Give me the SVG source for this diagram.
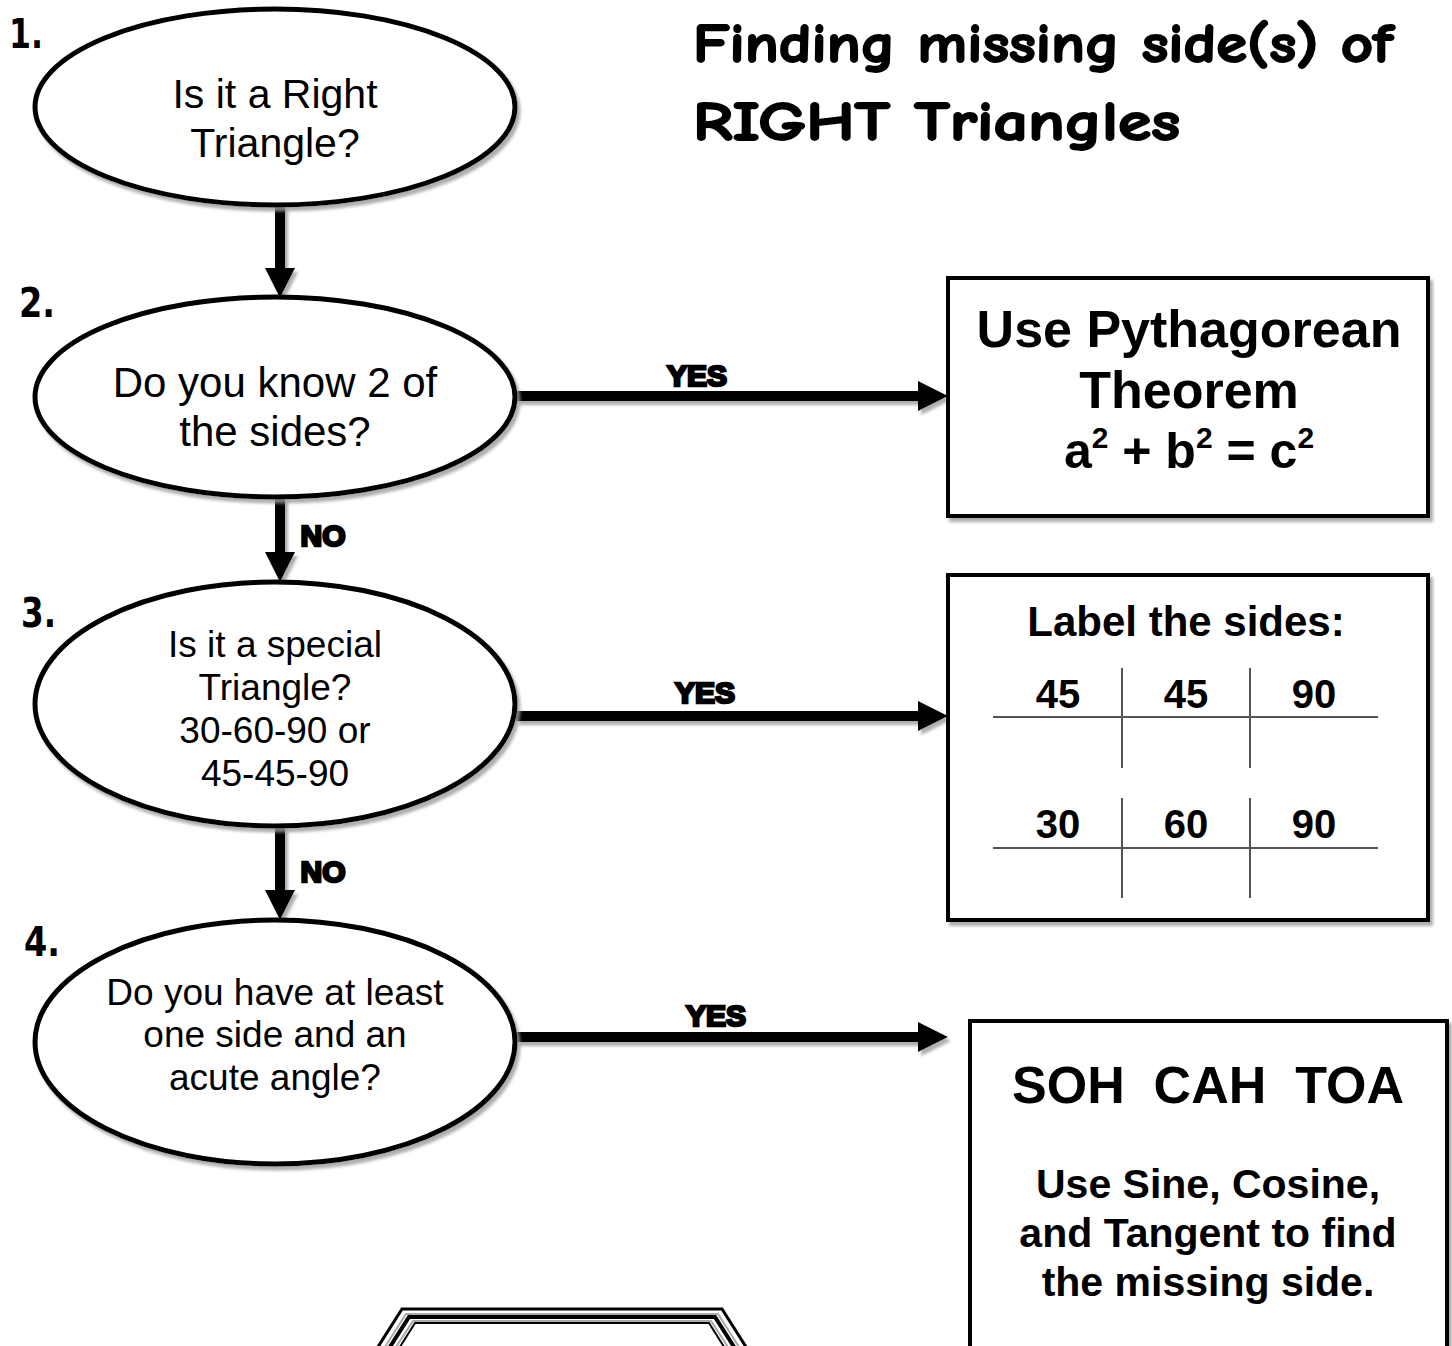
<svg xmlns="http://www.w3.org/2000/svg" width="1452" height="1346" viewBox="0 0 1452 1346">
<defs>
<filter id="sh" x="-10%" y="-10%" width="130%" height="130%">
<feDropShadow dx="3" dy="4" stdDeviation="1.5" flood-color="#9a9a9a" flood-opacity="0.8"/>
</filter>
<marker id="ah" markerUnits="userSpaceOnUse" markerWidth="32" markerHeight="32" refX="2" refY="15" orient="auto">
<path d="M0,0 L30,15 L0,30 z" fill="#000"/>
</marker>
</defs>
<style>
.ell{fill:#fff;stroke:#000;stroke-width:5}
.box{fill:#fff;stroke:#000;stroke-width:4}
.q{font-family:"Liberation Sans",Arial,sans-serif;text-anchor:middle;fill:#000}
.b{font-family:"Liberation Sans",Arial,sans-serif;font-weight:bold;text-anchor:middle;fill:#000}
.lbl{font-family:"Liberation Sans",Arial,sans-serif;font-weight:bold;font-size:30px;text-anchor:middle;fill:#000;stroke:#000;stroke-width:2.6}
.num{font-family:"DejaVu Sans",sans-serif;font-weight:bold;font-size:40px;fill:#000}
.ttl{font-family:"Comic Sans MS","Comic Neue","DejaVu Sans",sans-serif;font-weight:bold;font-size:54px;fill:#000;stroke:#000;stroke-width:1.8}
.conn line{stroke:#000;stroke-width:10;marker-end:url(#ah)}
.grid{stroke:#555;stroke-width:2}
</style>
<rect width="1452" height="1346" fill="#fff"/>

<g id="title">
<text class="ttl" x="693" y="62" textLength="700" lengthAdjust="spacingAndGlyphs">Finding missing side(s) of</text>
<text class="ttl" x="693" y="140" textLength="487" lengthAdjust="spacingAndGlyphs">RIGHT Triangles</text>
</g>

<g id="connectors" class="conn" filter="url(#sh)">
<line x1="280" y1="205" x2="280" y2="270"/>
<line x1="280" y1="497" x2="280" y2="554"/>
<line x1="280" y1="826" x2="280" y2="892"/>
<line x1="516" y1="396" x2="920" y2="396"/>
<line x1="516" y1="716" x2="920" y2="716"/>
<line x1="516" y1="1037" x2="920" y2="1037"/>
</g>

<g id="edge-labels">
<text class="lbl" x="697" y="386">YES</text>
<text class="lbl" x="705" y="703">YES</text>
<text class="lbl" x="716" y="1026">YES</text>
<text class="lbl" x="323" y="546">NO</text>
<text class="lbl" x="323" y="882">NO</text>
</g>

<g id="node1">
<ellipse class="ell" cx="275" cy="107" rx="240" ry="98" filter="url(#sh)"/>
<text class="num" x="9" y="48" textLength="34" lengthAdjust="spacingAndGlyphs">1.</text>
<text class="q" font-size="41" x="275" y="108">Is it a Right</text>
<text class="q" font-size="41" x="275" y="157">Triangle?</text>
</g>

<g id="node2">
<ellipse class="ell" cx="275" cy="397" rx="240" ry="100" filter="url(#sh)"/>
<text class="num" x="19" y="317" textLength="36" lengthAdjust="spacingAndGlyphs">2.</text>
<text class="q" font-size="42" x="275" y="397">Do you know 2 of</text>
<text class="q" font-size="42" x="275" y="446">the sides?</text>
</g>

<g id="node3">
<ellipse class="ell" cx="275" cy="704" rx="240" ry="122" filter="url(#sh)"/>
<text class="num" x="21" y="627" textLength="35" lengthAdjust="spacingAndGlyphs">3.</text>
<text class="q" font-size="37" x="275" y="657">Is it a special</text>
<text class="q" font-size="37" x="275" y="700">Triangle?</text>
<text class="q" font-size="37" x="275" y="743">30-60-90 or</text>
<text class="q" font-size="37" x="275" y="786">45-45-90</text>
</g>

<g id="node4">
<ellipse class="ell" cx="275" cy="1042" rx="240" ry="122" filter="url(#sh)"/>
<text class="num" x="24" y="956" textLength="36" lengthAdjust="spacingAndGlyphs">4.</text>
<text class="q" font-size="37" x="275" y="1005">Do you have at least</text>
<text class="q" font-size="37" x="275" y="1047">one side and an</text>
<text class="q" font-size="37" x="275" y="1090">acute angle?</text>
</g>

<g id="pythagorean">
<rect class="box" x="948" y="278" width="480" height="238" filter="url(#sh)"/>
<text class="b" font-size="52" x="1189" y="347">Use Pythagorean</text>
<text class="b" font-size="52" x="1189" y="408">Theorem</text>
<text class="b" font-size="50" x="1189" y="468">a<tspan font-size="30" dy="-20">2</tspan><tspan dy="20"> + b</tspan><tspan font-size="30" dy="-20">2</tspan><tspan dy="20"> = c</tspan><tspan font-size="30" dy="-20">2</tspan></text>
</g>

<g id="label-sides">
<rect class="box" x="948" y="575" width="480" height="345" filter="url(#sh)"/>
<text class="b" font-size="42" x="1186" y="636">Label the sides:</text>
<text class="b" font-size="40" x="1058" y="708">45</text>
<text class="b" font-size="40" x="1186" y="708">45</text>
<text class="b" font-size="40" x="1314" y="708">90</text>
<text class="b" font-size="40" x="1058" y="838">30</text>
<text class="b" font-size="40" x="1186" y="838">60</text>
<text class="b" font-size="40" x="1314" y="838">90</text>
<line class="grid" x1="993" y1="717" x2="1378" y2="717"/>
<line class="grid" x1="1122" y1="668" x2="1122" y2="768"/>
<line class="grid" x1="1250" y1="668" x2="1250" y2="768"/>
<line class="grid" x1="993" y1="848" x2="1378" y2="848"/>
<line class="grid" x1="1122" y1="798" x2="1122" y2="898"/>
<line class="grid" x1="1250" y1="798" x2="1250" y2="898"/>
</g>

<g id="soh-cah-toa">
<rect class="box" x="970" y="1021" width="477" height="360" filter="url(#sh)"/>
<text class="b" font-size="52" x="1208" y="1103" xml:space="preserve">SOH  CAH  TOA</text>
<text class="b" font-size="41" x="1208" y="1198">Use Sine, Cosine,</text>
<text class="b" font-size="41" x="1208" y="1247">and Tangent to find</text>
<text class="b" font-size="41" x="1208" y="1296">the missing side.</text>
</g>

<g id="octagon" fill="none">
<path d="M376,1350 L402,1309 L722,1309 L748,1350" stroke="#000" stroke-width="3"/>
<path d="M383,1350 L406,1314 L718,1314 L741,1350" stroke="#aaa" stroke-width="2"/>
<path d="M388,1350 L409,1317 L715,1317 L736,1350" stroke="#000" stroke-width="4"/>
<path d="M394,1350 L413,1321 L711,1321 L730,1350" stroke="#aaa" stroke-width="2"/>
<path d="M398,1350 L415,1323 L709,1323 L726,1350" stroke="#000" stroke-width="2"/>
</g>
</svg>
